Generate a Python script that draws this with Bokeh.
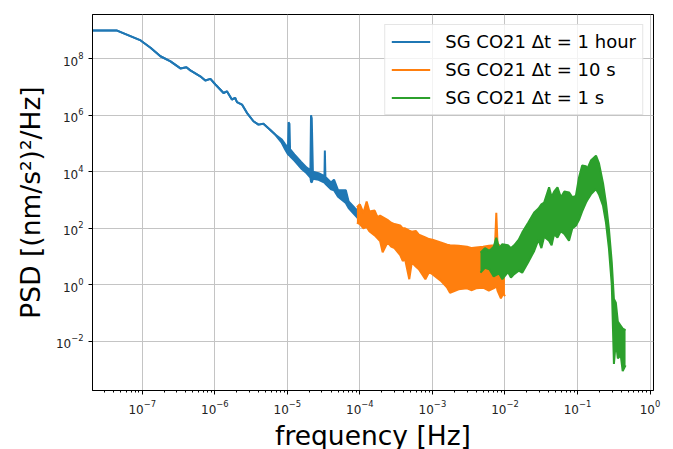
import numpy as np
from bokeh.plotting import figure
from bokeh.models import (Range1d, FixedTicker, Legend, LegendItem, ColumnDataSource)
from bokeh.embed import file_html
from bokeh.resources import INLINE

# ---------------- data (PSD given as log10 values) ----------------
blue_f = [2.0e-8, 4.5e-8, 9.5e-8, 1.3e-7, 1.78e-7, 2.45e-7, 3.36e-7, 4.06e-7, 4.6e-7, 6.3e-7,
          7.4e-7, 8.7e-7, 1.02e-6, 1.32e-6, 1.47e-6, 1.72e-6, 1.91e-6, 2.02e-6, 2.37e-6, 2.77e-6,
          3.41e-6, 4.0e-6, 4.68e-6, 5.78e-6, 6.8e-6, 8.4e-6, 9.3e-6, 1.02e-5, 1.04e-5, 1.07e-5,
          1.09e-5, 1.25e-5, 1.55e-5, 1.85e-5, 2.08e-5, 2.12e-5, 2.17e-5, 2.25e-5, 2.7e-5, 3.25e-5,
          3.29e-5, 3.35e-5, 4.0e-5, 4.4e-5, 5.0e-5, 6.4e-5, 7.0e-5, 8.5e-5, 1.05e-4]
blue_hi = [9.0, 9.0, 8.65, 8.39, 8.09, 7.91, 7.66, 7.70, 7.59, 7.38,
           7.23, 7.29, 7.09, 6.79, 6.85, 6.56, 6.62, 6.47, 6.38, 6.09,
           5.79, 5.67, 5.70, 5.49, 5.32, 5.14, 4.98, 4.85, 5.75, 5.70,
           4.80, 4.62, 4.35, 4.15, 4.05, 6.00, 5.90, 4.00, 3.95, 3.85,
           4.75, 3.82, 3.62, 3.72, 3.35, 3.35, 2.95, 2.72, 2.48]
blue_lo = [9.0, 9.0, 8.65, 8.39, 8.09, 7.91, 7.66, 7.70, 7.59, 7.38,
           7.23, 7.29, 7.09, 6.79, 6.85, 6.56, 6.62, 6.47, 6.38, 6.09,
           5.79, 5.67, 5.70, 5.49, 5.32, 5.02, 4.80, 4.62, 4.60, 4.58,
           4.55, 4.40, 4.12, 3.95, 3.80, 3.65, 3.62, 3.75, 3.72, 3.62,
           3.60, 3.58, 3.38, 3.35, 3.12, 2.90, 2.72, 2.48, 2.22]

orange_f = [9.1e-5, 1.0e-4, 1.12e-4, 1.24e-4, 1.35e-4, 1.6e-4, 1.75e-4, 1.9e-4, 2.06e-4, 2.4e-4,
            2.7e-4, 3.0e-4, 3.6e-4, 3.9e-4, 4.2e-4, 4.8e-4, 5.2e-4, 5.9e-4, 6.5e-4, 8.0e-4,
            9.0e-4, 1.0e-3, 1.3e-3, 1.6e-3, 1.75e-3, 2.3e-3, 3.0e-3, 3.5e-3, 4.0e-3, 5.0e-3,
            6.0e-3, 7.3e-3, 7.6e-3, 7.9e-3, 8.8e-3, 9.5e-3, 1.0e-2]
orange_hi = [2.75, 2.85, 2.55, 2.95, 2.60, 2.63, 2.40, 2.45, 2.40, 2.30,
             2.20, 2.15, 2.10, 2.00, 2.00, 1.92, 1.88, 1.91, 1.78, 1.68,
             1.62, 1.60, 1.50, 1.42, 1.40, 1.38, 1.35, 1.30, 1.32, 1.35,
             1.38, 1.40, 2.55, 1.45, 1.35, 1.20, 0.90]
orange_lo = [2.20, 2.15, 2.00, 2.05, 1.90, 1.75, 1.65, 1.55, 1.15, 1.50,
             1.35, 1.30, 1.05, 0.85, 0.90, 0.20, 0.80, 0.65, 0.55, 0.20,
             0.45, 0.38, 0.15, -0.10, -0.28, -0.16, -0.12, -0.19, -0.12, -0.10,
             -0.20, -0.10, 0.00, -0.20, -0.48, -0.30, -0.40]

green_f = [4.6e-3, 5.3e-3, 6.1e-3, 7.0e-3, 7.6e-3, 8.3e-3, 9.2e-3, 1.1e-2, 1.21e-2, 1.34e-2,
           1.55e-2, 1.73e-2, 2.09e-2, 2.53e-2, 2.9e-2, 3.18e-2, 3.47e-2, 4.06e-2, 4.4e-2, 4.76e-2,
           5.3e-2, 5.9e-2, 6.6e-2, 7.64e-2, 8.5e-2, 9.5e-2, 0.105, 0.116, 0.131, 0.137,
           0.153, 0.18, 0.198, 0.225, 0.247, 0.271, 0.297, 0.318, 0.338, 0.36,
           0.395, 0.42, 0.46]
green_hi = [1.14, 1.30, 1.20, 1.35, 1.67, 1.30, 1.44, 1.40, 1.30, 1.40,
            1.60, 1.85, 2.20, 2.56, 2.70, 2.85, 2.91, 3.45, 3.10, 3.30,
            3.45, 3.10, 3.30, 3.27, 3.10, 3.15, 3.80, 4.22, 4.20, 4.11,
            4.40, 4.57, 4.30, 3.60, 2.90, 2.00, 0.80, -0.50, -0.63, -1.30,
            -1.45, -1.55, -1.60]
green_lo = [0.43, 0.60, 0.55, 0.30, 0.35, 0.40, 0.20, 0.45, 0.26, 0.38,
            0.50, 0.43, 0.80, 1.20, 1.60, 1.30, 1.70, 1.56, 1.40, 1.80,
            1.67, 1.90, 1.80, 1.56, 2.00, 2.09, 2.30, 2.60, 2.91, 3.00,
            3.20, 3.39, 3.20, 2.80, 2.20, 1.30, 0.00, -2.80, -2.00, -2.60,
            -2.50, -3.05, -2.85]

series_labels = ["SG CO21 \u0394t = 1 hour", "SG CO21 \u0394t = 10 s", "SG CO21 \u0394t = 1 s"]
series_colors = ["#1f77b4", "#ff7f0e", "#2ca02c"]

x_major = [1e-7, 1e-6, 1e-5, 1e-4, 1e-3, 1e-2, 1e-1, 1e0]
y_major = [1e-2, 1e0, 1e2, 1e4, 1e6, 1e8]
x_minor = [m * d for d in [1e-8, 1e-7, 1e-6, 1e-5, 1e-4, 1e-3, 1e-2, 1e-1] for m in range(2, 10)]

FONT = "DejaVu Sans"

p = figure(frame_width=561, frame_height=376, x_axis_type="log", y_axis_type="log",
           x_range=Range1d(2.06e-8, 1.117), y_range=Range1d(1.82e-4, 3.7e9),
           output_backend="svg", toolbar_location=None,
           min_border_left=92, min_border_right=20, min_border_top=14, min_border_bottom=57)
p.background_fill_color = "white"
p.border_fill_color = "white"
p.outline_line_color = "black"
p.outline_line_width = 1

items = []
for f, hi, lo, lab, col in [(blue_f, blue_hi, blue_lo, series_labels[0], series_colors[0]),
                            (orange_f, orange_hi, orange_lo, series_labels[1], series_colors[1]),
                            (green_f, green_hi, green_lo, series_labels[2], series_colors[2])]:
    src = ColumnDataSource(dict(f=f, hi=10 ** np.array(hi), lo=10 ** np.array(lo)))
    p.varea(x="f", y1="lo", y2="hi", source=src, fill_color=col)
    r1 = p.line(x="f", y="hi", source=src, line_color=col, line_width=2)
    p.line(x="f", y="lo", source=src, line_color=col, line_width=2)
    items.append(LegendItem(label=lab, renderers=[r1]))

legend = Legend(items=items, location="top_right", margin=10,
                label_text_font=FONT, label_text_font_size="18px", label_text_color="black",
                glyph_width=39, glyph_height=21, label_height=21, label_standoff=15,
                spacing=7, padding=6,
                border_line_color="#cccccc", background_fill_alpha=0.8)
p.add_layout(legend)

# axes
p.xaxis.ticker = FixedTicker(ticks=x_major, minor_ticks=x_minor)
p.yaxis.ticker = FixedTicker(ticks=y_major, minor_ticks=[])
for ax in (p.xaxis[0], p.yaxis[0]):
    ax.axis_line_color = "black"
    ax.major_tick_line_color = "black"
    ax.minor_tick_line_color = "black"
    ax.major_tick_out = 4
    ax.major_tick_in = 0
    ax.minor_tick_out = 2
    ax.minor_tick_in = 0
    ax.major_label_text_font = FONT
    ax.major_label_text_font_size = "12px"
    ax.major_label_text_color = "#222222"
    ax.axis_label_text_font = FONT
    ax.axis_label_text_font_size = "26.5px"
    ax.axis_label_text_font_style = "normal"
    ax.axis_label_text_color = "black"
p.xaxis.axis_label = "frequency [Hz]"
p.yaxis.axis_label = "PSD [(nm/s\u00b2)\u00b2/Hz]"
p.xaxis.axis_label_standoff = 3
p.yaxis.axis_label_standoff = 7

p.xgrid.ticker = FixedTicker(ticks=x_major)
p.ygrid.ticker = FixedTicker(ticks=y_major)
p.grid.grid_line_color = "#c4c4c4"
p.grid.grid_line_width = 1

open("out.html", "w").write(file_html(p, INLINE))
